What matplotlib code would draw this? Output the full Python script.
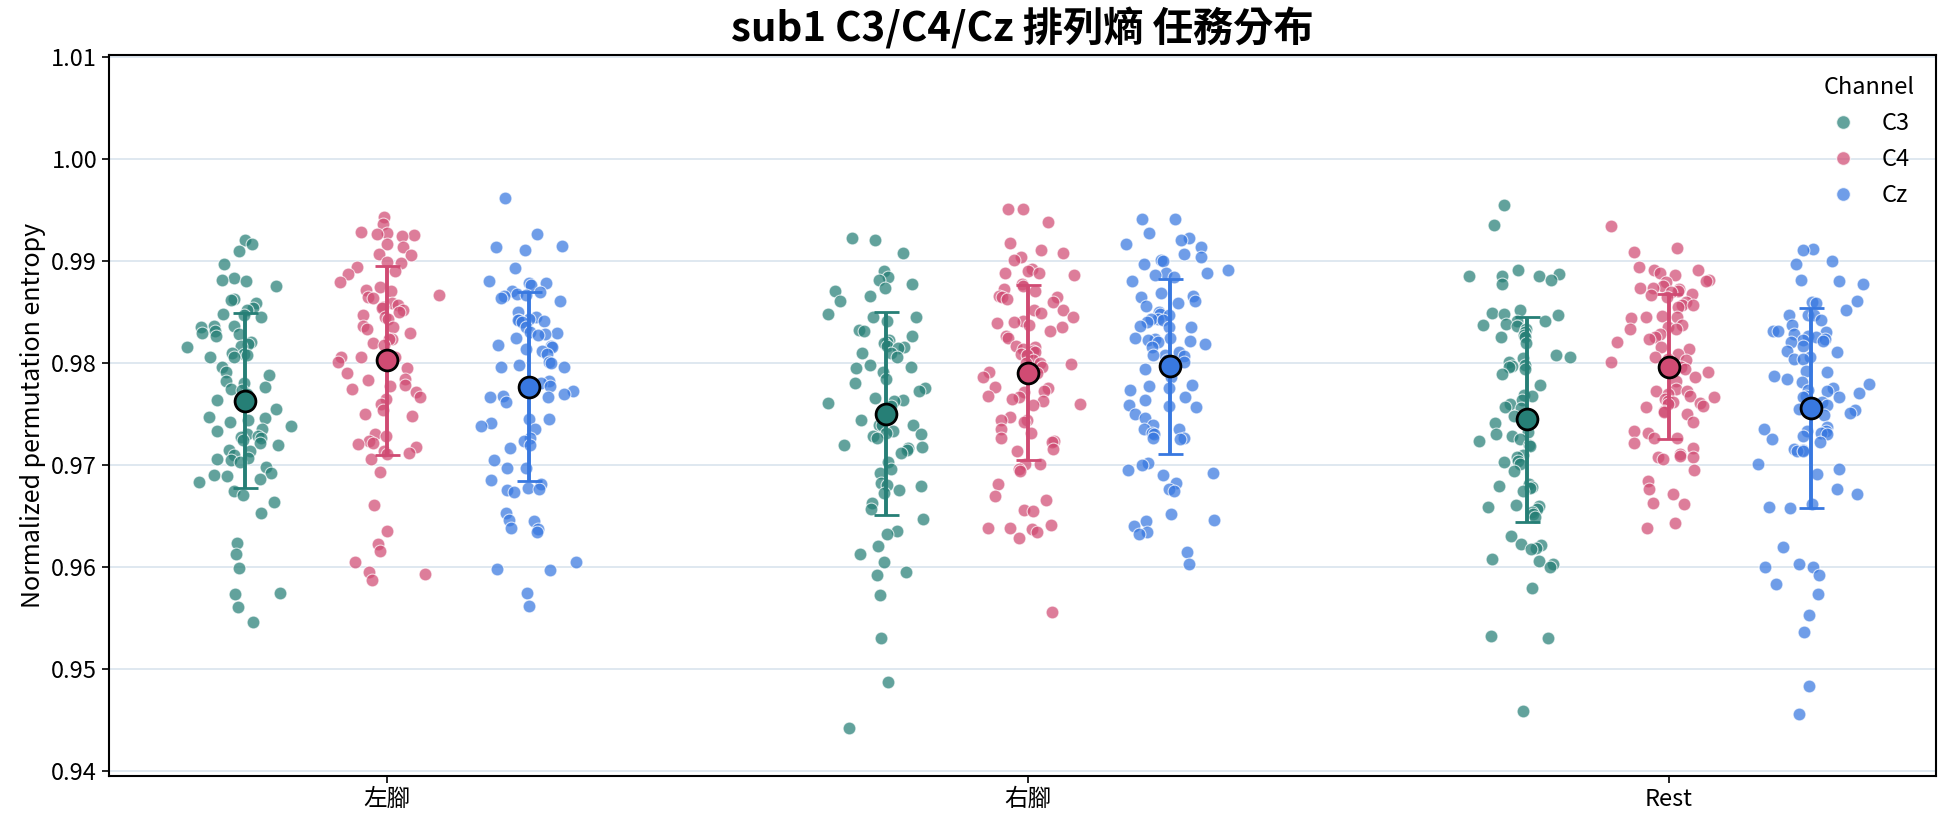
import numpy as np
import matplotlib
matplotlib.use("Agg")
import matplotlib.pyplot as plt
from matplotlib.lines import Line2D

plt.rcParams['font.family'] = ['Noto Sans CJK TC', 'DejaVu Sans']

tasks = ['左腳', '右腳', 'Rest']
channels = ['C3', 'C4', 'Cz']
base_colors = ['#267f76', '#d04b73', '#3878e0']

# 左腳
left_c3 = [0.9921, 0.9917, 0.9910, 0.9897, 0.9883, 0.9882, 0.9881, 0.9876, 0.9863, 0.9862,
           0.9859, 0.9854, 0.9852, 0.9848, 0.9847, 0.9845, 0.9836, 0.9836, 0.9835, 0.9832,
           0.9830, 0.9829, 0.9827, 0.9821, 0.9819, 0.9817, 0.9816, 0.9810, 0.9809, 0.9808,
           0.9806, 0.9806, 0.9796, 0.9791, 0.9788, 0.9783, 0.9781, 0.9777, 0.9775, 0.9774,
           0.9770, 0.9767, 0.9764, 0.9760, 0.9755, 0.9747, 0.9746, 0.9744, 0.9742, 0.9738,
           0.9736, 0.9734, 0.9731, 0.9729, 0.9728, 0.9727, 0.9725, 0.9722, 0.9720, 0.9715,
           0.9714, 0.9710, 0.9707, 0.9706, 0.9705, 0.9703, 0.9698, 0.9692, 0.9690, 0.9689,
           0.9687, 0.9684, 0.9675, 0.9671, 0.9664, 0.9653, 0.9624, 0.9613, 0.9599, 0.9575,
           0.9574, 0.9561, 0.9546]
left_c4 = [0.9943, 0.9936, 0.9929, 0.9928, 0.9927, 0.9926, 0.9925, 0.9917, 0.9914, 0.9907,
           0.9906, 0.9899, 0.9898, 0.9894, 0.9890, 0.9887, 0.9880, 0.9875, 0.9872, 0.9871,
           0.9867, 0.9865, 0.9864, 0.9859, 0.9857, 0.9855, 0.9854, 0.9852, 0.9850, 0.9847,
           0.9845, 0.9843, 0.9836, 0.9835, 0.9834, 0.9830, 0.9824, 0.9824, 0.9820, 0.9818,
           0.9806, 0.9806, 0.9806, 0.9801, 0.9795, 0.9790, 0.9785, 0.9784, 0.9779, 0.9778,
           0.9775, 0.9772, 0.9767, 0.9765, 0.9760, 0.9754, 0.9750, 0.9748, 0.9731, 0.9729,
           0.9724, 0.9722, 0.9721, 0.9718, 0.9714, 0.9712, 0.9711, 0.9706, 0.9693, 0.9661,
           0.9636, 0.9623, 0.9616, 0.9605, 0.9595, 0.9593, 0.9588]
left_cz = [0.9962, 0.9927, 0.9915, 0.9914, 0.9911, 0.9893, 0.9881, 0.9879, 0.9879, 0.9877,
           0.9871, 0.9870, 0.9868, 0.9867, 0.9866, 0.9864, 0.9861, 0.9850, 0.9845, 0.9843,
           0.9842, 0.9842, 0.9841, 0.9840, 0.9835, 0.9831, 0.9830, 0.9829, 0.9828, 0.9825,
           0.9818, 0.9817, 0.9816, 0.9814, 0.9812, 0.9809, 0.9801, 0.9800, 0.9798, 0.9796,
           0.9796, 0.9783, 0.9781, 0.9778, 0.9773, 0.9770, 0.9768, 0.9767, 0.9767, 0.9762,
           0.9745, 0.9745, 0.9741, 0.9738, 0.9736, 0.9727, 0.9724, 0.9720, 0.9717, 0.9705,
           0.9697, 0.9697, 0.9686, 0.9682, 0.9678, 0.9677, 0.9676, 0.9674, 0.9653, 0.9646,
           0.9645, 0.9639, 0.9638, 0.9635, 0.9605, 0.9598, 0.9597, 0.9575, 0.9562]

# 右腳
right_c3 = [0.9923, 0.9921, 0.9908, 0.9890, 0.9884, 0.9882, 0.9878, 0.9874, 0.9871, 0.9866,
            0.9861, 0.9848, 0.9845, 0.9845, 0.9841, 0.9833, 0.9832, 0.9827, 0.9823, 0.9821,
            0.9820, 0.9817, 0.9816, 0.9815, 0.9810, 0.9810, 0.9806, 0.9798, 0.9796, 0.9795,
            0.9791, 0.9785, 0.9781, 0.9776, 0.9773, 0.9766, 0.9764, 0.9763, 0.9761, 0.9758,
            0.9751, 0.9746, 0.9744, 0.9739, 0.9739, 0.9739, 0.9734, 0.9732, 0.9731, 0.9729,
            0.9727, 0.9720, 0.9718, 0.9717, 0.9715, 0.9712, 0.9703, 0.9696, 0.9692, 0.9683,
            0.9681, 0.9680, 0.9676, 0.9673, 0.9663, 0.9657, 0.9647, 0.9636, 0.9633, 0.9621,
            0.9613, 0.9605, 0.9595, 0.9592, 0.9573, 0.9531, 0.9488, 0.9443]
right_c4 = [0.9951, 0.9951, 0.9938, 0.9918, 0.9911, 0.9908, 0.9904, 0.9901, 0.9892, 0.9890,
            0.9888, 0.9888, 0.9886, 0.9878, 0.9876, 0.9873, 0.9871, 0.9866, 0.9865, 0.9865,
            0.9863, 0.9860, 0.9852, 0.9852, 0.9849, 0.9845, 0.9841, 0.9840, 0.9839, 0.9837,
            0.9835, 0.9832, 0.9827, 0.9825, 0.9817, 0.9816, 0.9814, 0.9812, 0.9811, 0.9809,
            0.9808, 0.9803, 0.9800, 0.9800, 0.9799, 0.9796, 0.9793, 0.9791, 0.9790, 0.9786,
            0.9777, 0.9776, 0.9773, 0.9772, 0.9768, 0.9767, 0.9765, 0.9763, 0.9760, 0.9759,
            0.9747, 0.9744, 0.9744, 0.9742, 0.9736, 0.9732, 0.9727, 0.9724, 0.9723, 0.9716,
            0.9714, 0.9701, 0.9701, 0.9696, 0.9694, 0.9682, 0.9670, 0.9666, 0.9656, 0.9655,
            0.9641, 0.9639, 0.9639, 0.9638, 0.9635, 0.9629, 0.9556]
right_cz = [0.9941, 0.9941, 0.9928, 0.9923, 0.9921, 0.9917, 0.9914, 0.9907, 0.9904, 0.9901,
            0.9900, 0.9897, 0.9891, 0.9888, 0.9888, 0.9886, 0.9884, 0.9881, 0.9869, 0.9866,
            0.9865, 0.9861, 0.9859, 0.9856, 0.9850, 0.9848, 0.9847, 0.9843, 0.9843, 0.9842,
            0.9840, 0.9836, 0.9835, 0.9835, 0.9825, 0.9825, 0.9824, 0.9823, 0.9822, 0.9821,
            0.9819, 0.9816, 0.9811, 0.9808, 0.9808, 0.9807, 0.9803, 0.9801, 0.9796, 0.9794,
            0.9793, 0.9786, 0.9779, 0.9778, 0.9776, 0.9774, 0.9767, 0.9764, 0.9759, 0.9758,
            0.9757, 0.9750, 0.9746, 0.9739, 0.9736, 0.9736, 0.9732, 0.9731, 0.9727, 0.9727,
            0.9726, 0.9702, 0.9700, 0.9695, 0.9692, 0.9690, 0.9683, 0.9677, 0.9675, 0.9652,
            0.9646, 0.9645, 0.9640, 0.9635, 0.9633, 0.9615, 0.9603]

# Rest
rest_c3 = [0.9955, 0.9935, 0.9891, 0.9887, 0.9885, 0.9885, 0.9885, 0.9882, 0.9878, 0.9852,
           0.9849, 0.9848, 0.9847, 0.9841, 0.9841, 0.9838, 0.9837, 0.9836, 0.9834, 0.9831,
           0.9828, 0.9826, 0.9826, 0.9820, 0.9808, 0.9806, 0.9805, 0.9801, 0.9798, 0.9797,
           0.9796, 0.9794, 0.9789, 0.9779, 0.9769, 0.9768, 0.9764, 0.9760, 0.9757, 0.9756,
           0.9748, 0.9745, 0.9741, 0.9741, 0.9733, 0.9731, 0.9729, 0.9726, 0.9724, 0.9720,
           0.9719, 0.9710, 0.9708, 0.9704, 0.9703, 0.9701, 0.9694, 0.9682, 0.9680, 0.9679,
           0.9678, 0.9675, 0.9661, 0.9660, 0.9659, 0.9657, 0.9654, 0.9652, 0.9649, 0.9631,
           0.9623, 0.9622, 0.9619, 0.9618, 0.9608, 0.9606, 0.9603, 0.9600, 0.9580, 0.9533,
           0.9531, 0.9459]
rest_c4 = [0.9934, 0.9913, 0.9909, 0.9894, 0.9891, 0.9891, 0.9888, 0.9886, 0.9882, 0.9881,
           0.9880, 0.9876, 0.9874, 0.9874, 0.9873, 0.9871, 0.9870, 0.9868, 0.9867, 0.9865,
           0.9860, 0.9857, 0.9857, 0.9855, 0.9846, 0.9845, 0.9845, 0.9844, 0.9837, 0.9835,
           0.9834, 0.9834, 0.9829, 0.9826, 0.9824, 0.9821, 0.9816, 0.9814, 0.9809, 0.9806,
           0.9804, 0.9803, 0.9801, 0.9799, 0.9796, 0.9794, 0.9791, 0.9786, 0.9783, 0.9775,
           0.9773, 0.9773, 0.9770, 0.9768, 0.9767, 0.9765, 0.9763, 0.9762, 0.9761, 0.9760,
           0.9758, 0.9757, 0.9753, 0.9752, 0.9750, 0.9742, 0.9734, 0.9732, 0.9727, 0.9727,
           0.9722, 0.9717, 0.9711, 0.9709, 0.9708, 0.9708, 0.9706, 0.9695, 0.9685, 0.9677,
           0.9672, 0.9663, 0.9662, 0.9643, 0.9639]
rest_cz = [0.9912, 0.9911, 0.9900, 0.9897, 0.9882, 0.9881, 0.9878, 0.9861, 0.9860, 0.9859,
           0.9852, 0.9847, 0.9847, 0.9847, 0.9842, 0.9837, 0.9832, 0.9832, 0.9831, 0.9829,
           0.9827, 0.9826, 0.9824, 0.9823, 0.9822, 0.9821, 0.9817, 0.9812, 0.9811, 0.9806,
           0.9804, 0.9804, 0.9792, 0.9791, 0.9787, 0.9785, 0.9782, 0.9780, 0.9776, 0.9774,
           0.9773, 0.9771, 0.9768, 0.9767, 0.9767, 0.9762, 0.9759, 0.9755, 0.9754, 0.9751,
           0.9749, 0.9737, 0.9736, 0.9734, 0.9734, 0.9732, 0.9731, 0.9729, 0.9726, 0.9723,
           0.9716, 0.9715, 0.9714, 0.9714, 0.9701, 0.9696, 0.9691, 0.9677, 0.9672, 0.9662,
           0.9659, 0.9658, 0.9620, 0.9603, 0.9600, 0.9600, 0.9592, 0.9584, 0.9574, 0.9553,
           0.9537, 0.9484, 0.9456]

data = [[left_c3, left_c4, left_cz],
        [right_c3, right_c4, right_cz],
        [rest_c3, rest_c4, rest_cz]]

fig = plt.figure(figsize=(19.44, 8.27), dpi=100)
ax = fig.add_axes([109 / 1944, 1 - 776 / 827, (1936 - 109) / 1944, (776 - 55) / 827])

rng = np.random.default_rng(7)
offsets = [-0.222, 0.0, 0.222]

# jittered points
for i, task in enumerate(tasks):
    for j, ch in enumerate(channels):
        vals = np.array(data[i][j])
        jit = np.clip(rng.normal(0, 0.036, len(vals)), -0.09, 0.09)
        ax.scatter(i + offsets[j] + jit, vals, s=85, color=base_colors[j], alpha=0.72,
                   edgecolors='white', linewidths=0.8, zorder=3)

# mean +/- sd
for i, task in enumerate(tasks):
    for j, ch in enumerate(channels):
        vals = np.array(data[i][j])
        ax.errorbar(i + offsets[j], vals.mean(), yerr=vals.std(ddof=1),
                    fmt='o', color=base_colors[j], ecolor=base_colors[j],
                    elinewidth=2.8, capsize=9, capthick=2.8,
                    markersize=15, markeredgecolor='black', markeredgewidth=2,
                    zorder=5)

ax.set_xlim(-0.434, 2.417)
ax.set_ylim(0.93955, 1.0102)
yt = np.arange(0.94, 1.0101, 0.01)
ax.set_xticks(range(len(tasks)))
ax.set_xticklabels(tasks, fontsize=17)
ax.set_yticks(yt)
ax.set_yticklabels([f'{v:.2f}' for v in yt], fontsize=17)
ax.tick_params(axis='both', length=5, width=1.2)
ax.yaxis.grid(True, color='#dce6ef', linewidth=1.3)
ax.set_axisbelow(True)
for sp in ax.spines.values():
    sp.set_linewidth(1.5)

ax.set_ylabel('Normalized permutation entropy', fontsize=18)
ax.set_title('sub1 C3/C4/Cz 排列熵 任務分布', fontsize=29, fontweight='bold', pad=10)

handles = [Line2D([0], [0], marker='o', linestyle='', markersize=10,
                  markerfacecolor=c, markeredgecolor='white', alpha=0.72)
           for c in base_colors]
ax.legend(handles, channels, title='Channel', loc='upper right', frameon=False,
          fontsize=17, title_fontsize=17, labelspacing=0.55,
          handlelength=1.2, handletextpad=1.0)

plt.savefig('out.png', dpi=100)
